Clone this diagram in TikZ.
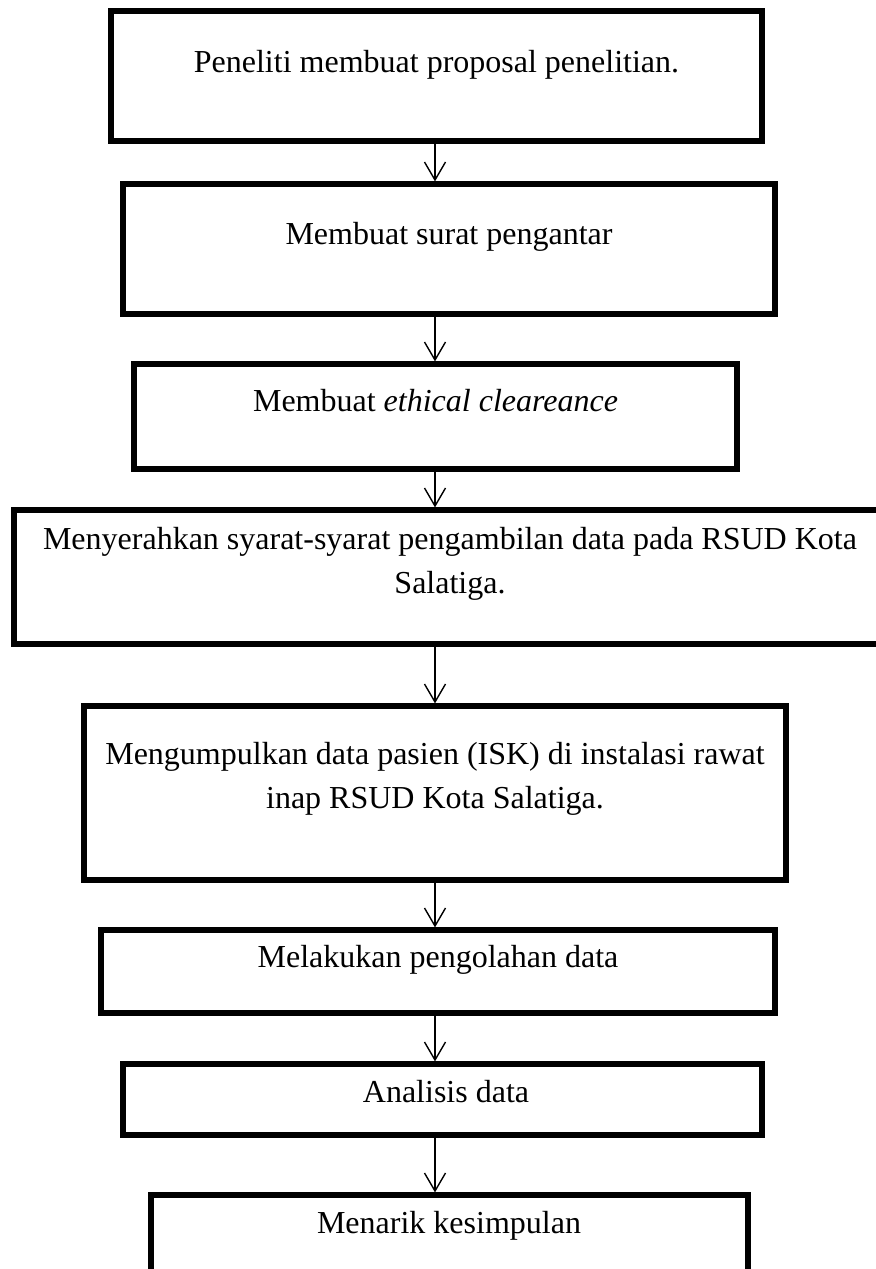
\documentclass[tikz,border=0pt]{standalone}
\usepackage{fontspec}
\setmainfont{Liberation Serif}
\usetikzlibrary{arrows.meta}

\begin{document}
\begin{tikzpicture}[x=1pt, y=1pt,
    kotak/.style={draw, line width=2.6pt, inner sep=0pt},
    teks/.style={anchor=base, align=center, inner sep=0pt, font=\fontsize{16}{22}\selectfont},
    panah/.style={-{Straight Barb[length=9pt, width=10.5pt]}, line width=0.7pt}]
    % Batas gambar
    \useasboundingbox (0,0) rectangle (438,-634.5);
    \clip (0,0) rectangle (438,-634.5);
    
    % Kotak-kotak alur penelitian
    \node[kotak, minimum width=325.5pt, minimum height=65pt] (k1) at (218.25,-38) {};
    \node[kotak, minimum width=326pt, minimum height=65pt] (k2) at (224.5,-124.5) {};
    \node[kotak, minimum width=301.5pt, minimum height=52.5pt] (k3) at (217.75,-208.25) {};
    \node[kotak, minimum width=438pt, minimum height=67pt] (k4) at (226,-288.5) {};
    \node[kotak, minimum width=351pt, minimum height=87pt] (k5) at (217.5,-396.5) {};
    \node[kotak, minimum width=337pt, minimum height=41.5pt] (k6) at (219,-485.75) {};
    \node[kotak, minimum width=319.5pt, minimum height=35.5pt] (k7) at (221.25,-549.75) {};
    \node[kotak, minimum width=298.5pt, minimum height=67.5pt] (k8) at (224.75,-631.25) {};
    
    % Teks di dalam kotak (baseline baris terakhir)
    \node[teks] (t1) at (218.25,-36) {Peneliti membuat proposal penelitian.};
    \node[teks] (t2) at (224.5,-122) {Membuat surat pengantar};
    \node[teks] (t3) at (217.75,-205.5) {Membuat \textit{ethical cleareance}};
    \node[teks] (t4) at (225,-296.5) {Menyerahkan syarat-syarat pengambilan data pada RSUD Kota\\Salatiga.};
    \node[teks] (t5) at (217.5,-404) {Mengumpulkan data pasien (ISK) di instalasi rawat\\inap RSUD Kota Salatiga.};
    \node[teks] (t6) at (219,-483.5) {Melakukan pengolahan data};
    \node[teks] (t7) at (223,-551) {Analisis data};
    \node[teks] (t8) at (224.5,-616.5) {Menarik kesimpulan};
    
    % Panah antar kotak
    \coordinate (ax) at (217.5,0);
    \draw[panah] (ax |- k1.south) -- (ax |- k2.north);
    \draw[panah] (ax |- k2.south) -- (ax |- k3.north);
    \draw[panah] (ax |- k3.south) -- (ax |- k4.north);
    \draw[panah] (ax |- k4.south) -- (ax |- k5.north);
    \draw[panah] (ax |- k5.south) -- (ax |- k6.north);
    \draw[panah] (ax |- k6.south) -- (ax |- k7.north);
    \draw[panah] (ax |- k7.south) -- (ax |- k8.north);
\end{tikzpicture}
\end{document}
